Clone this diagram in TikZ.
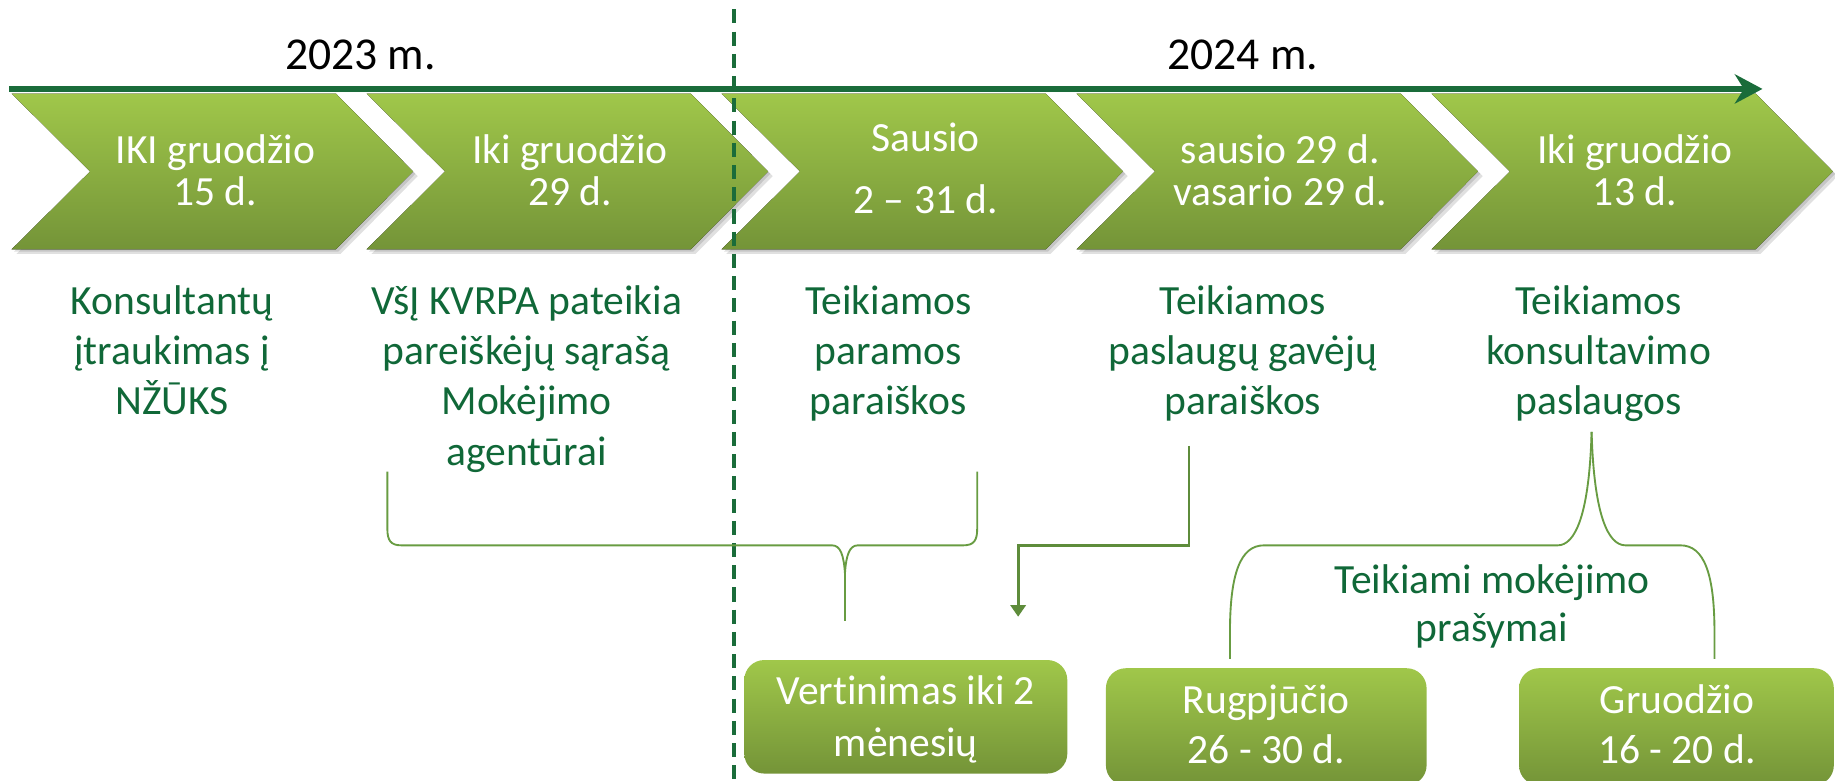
\documentclass[tikz,border=0pt]{standalone}
\usepackage{fontspec}
\setmainfont{Carlito}[RawFeature={-liga}]
\usetikzlibrary{arrows.meta}
\definecolor{tlgreen}{RGB}{26,108,58}
\definecolor{txtgreen}{RGB}{16,104,56}
\definecolor{brgreen}{RGB}{104,156,66}
\definecolor{chtop}{RGB}{160,199,74}
\definecolor{chbot}{RGB}{116,148,56}
\newcommand\mystr{\rule{0pt}{14pt}}
\tikzset{
  chevfill/.style={top color=chtop, bottom color=chbot, draw=none},
  chevshadow/.style={fill=black, opacity=0.12, draw=none},
  chevtext/.style={text=white, align=center, inner sep=0pt, anchor=north},
  coltext/.style={text=txtgreen, align=center, inner sep=0pt, anchor=north,
     font=\fontsize{17.75}{21.5}\selectfont},
  yeartext/.style={text=black, inner sep=0pt, anchor=base, font=\fontsize{19.5}{23}\selectfont},
  timeline/.style={draw=tlgreen, line width=2.4pt, -{Stealth[length=11.8pt,width=12.5pt]}},
  yearsep/.style={draw=tlgreen, line width=1.75pt, dash pattern=on 6pt off 3.5pt},
  bracket/.style={draw=brgreen, line width=0.8pt},
  conn/.style={draw=brgreen!90!black, line width=1.25pt, -{Triangle[length=5pt,width=6.5pt]}},
  greenbox/.style={top color=chtop, bottom color=chbot, draw=none, rounded corners=8.5pt, inner sep=0pt},
  boxtext/.style={text=white, align=center, inner sep=0pt, anchor=north}
}
\begin{document}
\begin{tikzpicture}[x=0.5pt, y=-0.5pt]
\useasboundingbox (0,0) rectangle (1568,667);
% chevrons
\foreach \x/\n in {10/1, 313.3/2, 616.6/3, 919.9/4, 1223.2/5}{
  \foreach \s in {2,4}{
    \fill[chevshadow, shift={(\s,\s)}] (\x,80) -- ({\x+277},80) -- ({\x+343},146.5) -- ({\x+277},213) -- (\x,213) -- ({\x+67},146.5) -- cycle;
  }
  \fill[chevfill] (\x,80) -- ({\x+277},80) -- ({\x+343},146.5) -- ({\x+277},213) -- (\x,213) -- ({\x+67},146.5) -- cycle;
}
\node[chevtext, font=\fontsize{17.75}{18}\selectfont] (c1) at (184,111) {\mystr IKI gruodžio\\15 d.};
\node[chevtext, font=\fontsize{17.75}{18}\selectfont] (c2) at (487,111) {\mystr Iki gruodžio\\29 d.};
\node[chevtext, font=\fontsize{17.75}{26.5}\selectfont] (c3) at (791,101) {\mystr Sausio\\2 – 31 d.};
\node[chevtext, font=\fontsize{17.75}{18}\selectfont] (c4) at (1094,111) {\mystr sausio 29 d.\\vasario 29 d.};
\node[chevtext, font=\fontsize{17.75}{18}\selectfont] (c5) at (1397,111) {\mystr Iki gruodžio\\13 d.};
% timeline
\coordinate (tlstart) at (8,76);
\coordinate (tlend) at (1506,76);
\draw[timeline] (tlstart) -- (tlend);
\node[yeartext] (y2023) at (308,59) {2023 m.};
\node[yeartext] (y2024) at (1062,59) {2024 m.};
% year separator
\coordinate (septop) at (627,8);
\coordinate (sepbot) at (627,672);
\draw[yearsep] (septop) -- (sepbot);
% column texts
\node[coltext] (t1) at (147,240) {\mystr Konsultantų\\įtraukimas į\\NŽŪKS};
\node[coltext] (t2) at (450,240) {\mystr VšĮ KVRPA pateikia\\pareiškėjų sąrašą\\Mokėjimo\\agentūrai};
\node[coltext] (t3) at (759,240) {\mystr Teikiamos\\paramos\\paraiškos};
\node[coltext] (t4) at (1062,240) {\mystr Teikiamos\\paslaugų gavėjų\\paraiškos};
\node[coltext] (t5) at (1366,240) {\mystr Teikiamos\\konsultavimo\\paslaugos};
% bottom boxes
\node[greenbox, minimum width=138pt, minimum height=48.5pt] (vbox) at (774,612.5) {};
\node[greenbox, minimum width=137pt, minimum height=50pt] (rbox) at (1082,621) {};
\node[greenbox, minimum width=134.5pt, minimum height=50pt] (gbox) at (1432.5,621) {};
\node[boxtext, font=\fontsize{17.75}{22}\selectfont] (vtext) at (774,574) {\mystr Vertinimas iki 2\\mėnesių};
\node[boxtext, font=\fontsize{17.75}{21.5}\selectfont] (rtext) at (1082,581) {\mystr Rugpjūčio\\26 - 30 d.};
\node[boxtext, font=\fontsize{17.75}{21.5}\selectfont] (gtext) at (1433,581) {\mystr Gruodžio\\16 - 20 d.};
% bracket 1
\coordinate (b1l) at (331,403);
\coordinate (b1r) at (835,403);
\coordinate (b1m) at (722,490);
\coordinate (b1tip) at (722,531);
\draw[bracket] (b1l) -- (331,452) .. controls (331,462) and (334,466) .. (343,466) -- (711,466)
  .. controls (718,466) and (721,474) .. (b1m)
  .. controls (723,474) and (726,466) .. (733,466) -- (823,466)
  .. controls (832,466) and (835,462) .. (835,452) -- (b1r);
\draw[bracket] (b1m) -- (b1tip);
% connector from t4
\coordinate (a0) at (1016,381);
\coordinate (a1) at (870,527);
\draw[conn] (a0) -- (1016,466) -| (a1);
% bracket 2
\coordinate (b2top) at (1360,369);
\coordinate (b2l) at (1051,563);
\coordinate (b2r) at (1465,563);
\node[coltext, font=\fontsize{17.75}{20.5}\selectfont] (pay) at (1275,479) {\mystr Teikiami mokėjimo\\prašymai};
\draw[bracket] (b2l) -- (1051,540) .. controls (1051,490) and (1060,466) .. (1080,466) -- (1331,466)
  .. controls (1346,466) and (1358,440) .. (b2top);
\draw[bracket] (b2top) .. controls (1362,440) and (1374,466) .. (1389,466) -- (1436,466)
  .. controls (1456,466) and (1465,490) .. (1465,540) -- (b2r);
\end{tikzpicture}
\end{document}
